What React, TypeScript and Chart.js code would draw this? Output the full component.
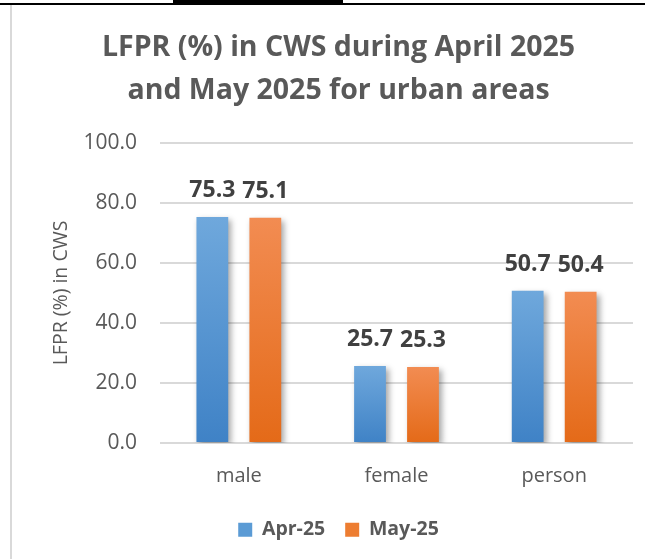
import React, { useEffect, useRef } from "react";
import { Chart, registerables } from "chart.js";

Chart.register(...registerables);

const categories = ["male", "female", "person"];
const seriesNames = ["Apr-25", "May-25"];
const apr25Values = [75.3, 25.7, 50.7];
const may25Values = [75.1, 25.3, 50.4];
const yMin = 0;
const yMax = 100;
const yStep = 20;
const titleLines = ["LFPR (%) in CWS during April 2025", "and May 2025 for urban areas"];
const yAxisTitle = "LFPR (%) in CWS";

const FONT = "'Open Sans', 'DejaVu Sans', sans-serif";
const TEXT = "#595959";
const BLUE_TOP = "#6fa8dc";
const BLUE_BOT = "#3f82c6";
const ORANGE_TOP = "#f28c52";
const ORANGE_BOT = "#e46a18";

function barGradient(top: string, bottom: string) {
  return (ctx: any) => {
    const chart = ctx.chart;
    if (!chart.chartArea || ctx.type !== "data") return bottom;
    const ys = chart.scales.y;
    const y0 = ys.getPixelForValue(ctx.raw as number);
    const y1 = ys.getPixelForValue(0);
    const g = chart.ctx.createLinearGradient(0, y0, 0, y1);
    g.addColorStop(0, top);
    g.addColorStop(1, bottom);
    return g;
  };
}

const framePlugin = {
  id: "frame",
  beforeDraw(chart: any) {
    const c = chart.ctx;
    c.save();
    c.fillStyle = "#ffffff";
    c.fillRect(0, 0, chart.width, chart.height);
    c.fillStyle = "#000000";
    c.fillRect(0, 3, 645, 2);
    c.fillRect(173, 0, 170, 5);
    c.fillStyle = "#d9d9d9";
    c.fillRect(10, 5, 2, chart.height - 5);
    c.restore();
  },
};

const shadowPlugin = {
  id: "barShadow",
  beforeDatasetsDraw(chart: any) {
    const c = chart.ctx;
    c.save();
    c.shadowColor = "rgba(0,0,0,0.35)";
    c.shadowBlur = 6;
    c.shadowOffsetX = 3;
    c.shadowOffsetY = 3;
  },
  afterDatasetsDraw(chart: any) {
    chart.ctx.restore();
  },
};

const labelPlugin = {
  id: "valueLabels",
  afterDraw(chart: any) {
    const c = chart.ctx;
    c.save();
    c.font = `bold 23px ${FONT}`;
    c.fillStyle = "#404040";
    c.textAlign = "center";
    c.textBaseline = "alphabetic";
    chart.data.datasets.forEach((ds: any, di: number) => {
      const meta = chart.getDatasetMeta(di);
      meta.data.forEach((el: any, i: number) => {
        c.fillText(Number(ds.data[i]).toFixed(1), el.x, el.y - 20);
      });
    });
    c.restore();
  },
};

export default function App() {
  const ref = useRef<HTMLCanvasElement | null>(null);

  useEffect(() => {
    document.body.style.margin = "0";
    const canvas = ref.current;
    if (!canvas) return;
    const chart = new Chart(canvas, {
      type: "bar",
      data: {
        labels: categories,
        datasets: [
          {
            label: seriesNames[0],
            data: apr25Values,
            backgroundColor: barGradient(BLUE_TOP, BLUE_BOT),
            categoryPercentage: 0.672,
            barPercentage: 0.6,
          },
          {
            label: seriesNames[1],
            data: may25Values,
            backgroundColor: barGradient(ORANGE_TOP, ORANGE_BOT),
            categoryPercentage: 0.672,
            barPercentage: 0.6,
          },
        ],
      },
      options: {
        responsive: false,
        animation: false,
        devicePixelRatio: 1,
        layout: { padding: { left: 44, right: 17, top: 0, bottom: 9.5 } },
        plugins: {
          title: {
            display: true,
            text: titleLines,
            color: TEXT,
            font: { family: FONT, size: 28.5, weight: "bold", lineHeight: 1.49 },
            padding: { top: 27, bottom: 31 },
          },
          legend: {
            position: "bottom",
            labels: {
              color: TEXT,
              font: { family: FONT, size: 19.5, weight: "bold" },
              boxWidth: 14,
              boxHeight: 14,
              padding: 20,
              generateLabels: (chart: any) =>
                chart.data.datasets.map((ds: any, i: number) => ({
                  text: ds.label,
                  fillStyle: i === 0 ? "#5b9bd5" : "#ed7d31",
                  strokeStyle: "rgba(0,0,0,0)",
                  lineWidth: 0,
                  fontColor: TEXT,
                  hidden: false,
                  datasetIndex: i,
                })),
            },
          },
          tooltip: { enabled: false },
        },
        scales: {
          x: {
            grid: { display: false },
            border: { display: false },
            ticks: { color: TEXT, font: { family: FONT, size: 20 }, padding: 13 },
            afterFit: (s: any) => {
              s.height = 57;
            },
          },
          y: {
            min: yMin,
            max: yMax,
            ticks: {
              stepSize: yStep,
              color: TEXT,
              font: { family: FONT, size: 21 },
              padding: 23,
              callback: (v: any) => Number(v).toFixed(1),
            },
            grid: { color: "#d9d9d9", lineWidth: 2, drawTicks: false },
            border: { display: false },
            title: {
              display: true,
              text: yAxisTitle,
              color: TEXT,
              font: { family: FONT, size: 19.5 },
              padding: { top: 6, bottom: 0 },
            },
            afterFit: (s: any) => {
              s.width = 116;
            },
          },
        },
      },
      plugins: [framePlugin, shadowPlugin, labelPlugin],
    });
    return () => chart.destroy();
  }, []);

  return (
    <div style={{ position: "absolute", left: 0, top: 0, width: 650, height: 559 }}>
      <canvas ref={ref} width={650} height={559} />
    </div>
  );
}
